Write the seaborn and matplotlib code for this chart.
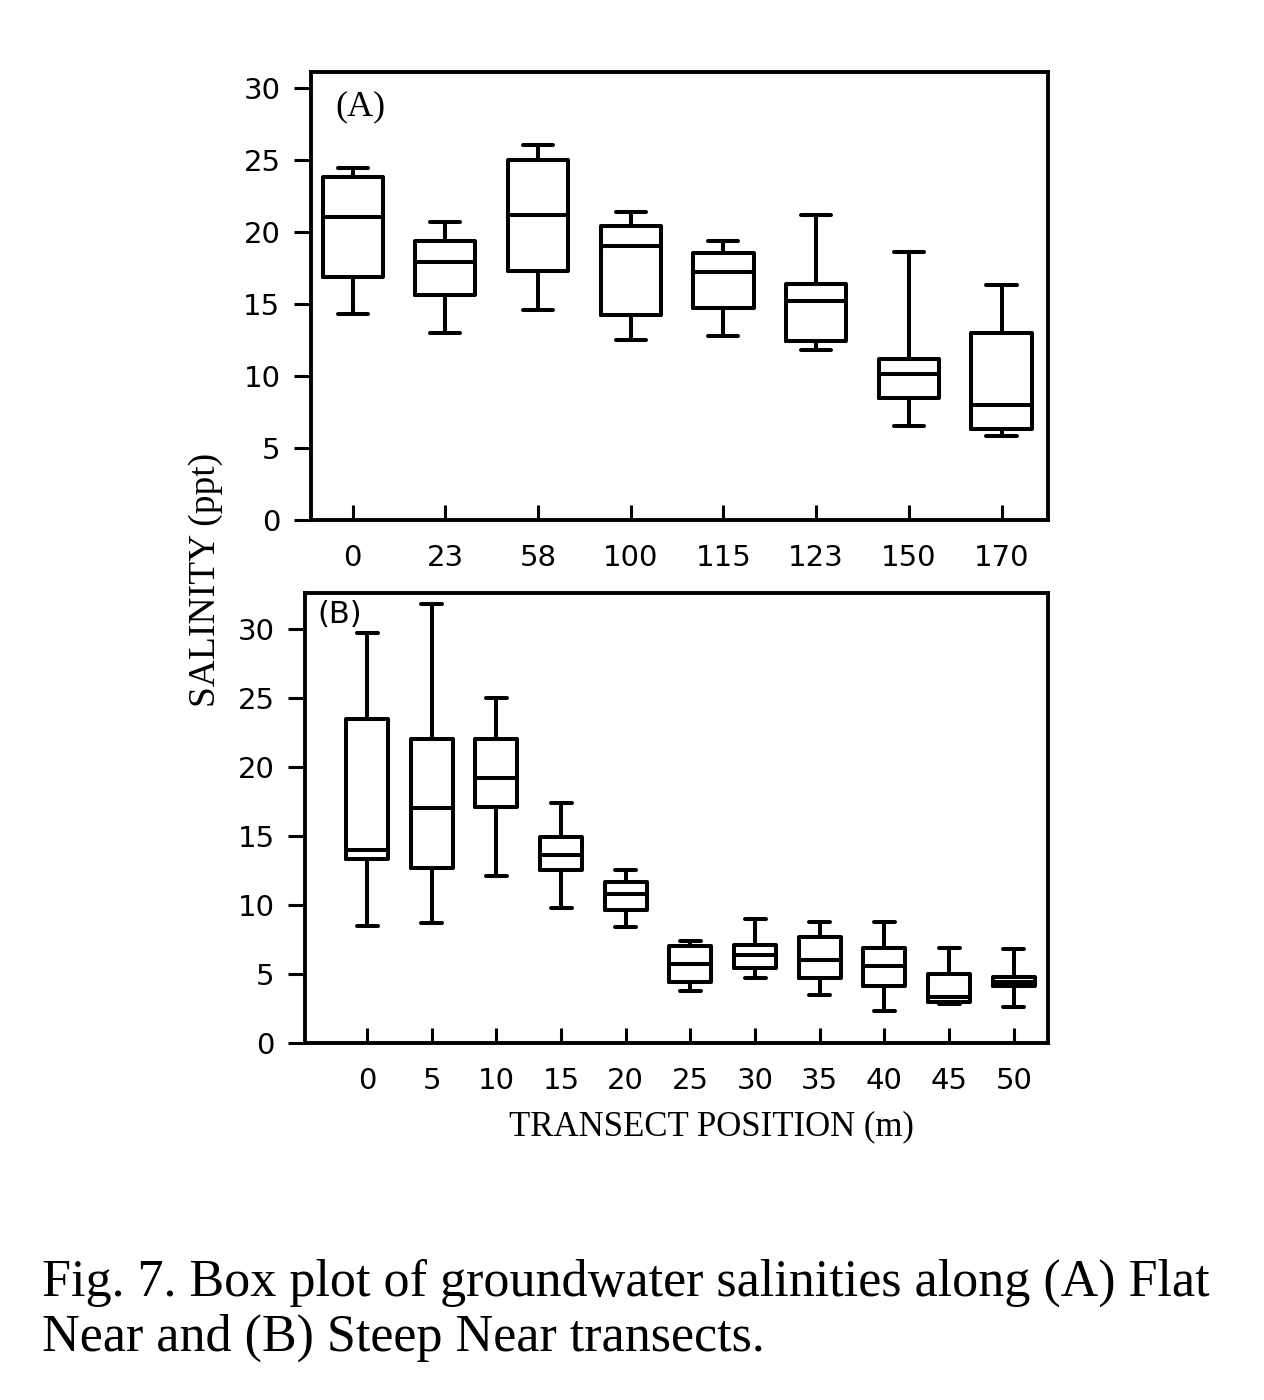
"""
Box plots of groundwater salinity along two beach transects (Fig. 7).
"""

import numpy as np
import pandas as pd
import matplotlib
matplotlib.use("Agg")
import matplotlib.pyplot as plt
import seaborn as sns

# Panel A: Flat Near transect, positions (m)
pos_a = ["0", "23", "58", "100", "115", "123", "150", "170"]
lo_a = [14.3, 13.0, 14.6, 12.5, 12.8, 11.8, 6.5, 5.8]
q1_a = [16.9, 15.6, 17.3, 14.2, 14.7, 12.4, 8.5, 6.3]
med_a = [21.0, 17.9, 21.2, 19.0, 17.2, 15.2, 10.1, 8.0]
q3_a = [23.8, 19.4, 25.0, 20.4, 18.5, 16.4, 11.2, 13.0]
hi_a = [24.4, 20.7, 26.0, 21.4, 19.4, 21.2, 18.6, 16.3]

# Panel B: Steep Near transect, positions (m)
pos_b = ["0", "5", "10", "15", "20", "25", "30", "35", "40", "45", "50"]
lo_b = [8.5, 8.7, 12.1, 9.8, 8.4, 3.8, 4.7, 3.5, 2.3, 2.8, 2.6]
q1_b = [13.3, 12.7, 17.1, 12.5, 9.6, 4.4, 5.45, 4.7, 4.1, 3.0, 4.1]
med_b = [14.0, 17.0, 19.2, 13.6, 10.8, 5.7, 6.4, 6.0, 5.6, 3.35, 4.45]
q3_b = [23.5, 22.0, 22.0, 14.9, 11.7, 7.0, 7.1, 7.7, 6.9, 5.0, 4.8]
hi_b = [29.7, 31.8, 25.0, 17.4, 12.5, 7.4, 9.0, 8.75, 8.75, 6.9, 6.8]


def five_number_frame(positions, lo, q1, med, q3, hi):
    # five values per position -> percentiles 0/25/50/75/100 land exactly on them
    rows = []
    for i, p in enumerate(positions):
        for v in (lo[i], q1[i], med[i], q3[i], hi[i]):
            rows.append({"position": p, "salinity": v})
    return pd.DataFrame(rows)


df_a = five_number_frame(pos_a, lo_a, q1_a, med_a, q3_a, hi_a)
df_b = five_number_frame(pos_b, lo_b, q1_b, med_b, q3_b, hi_b)

sns.set_theme(style="ticks")
plt.rcParams["font.family"] = ["DejaVu Sans"]
plt.rcParams["text.color"] = "black"

fig = plt.figure(figsize=(12.64, 14), dpi=100)
ax_a = fig.add_axes([0.246, 0.6286, 0.583, 0.32])
ax_b = fig.add_axes([0.2413, 0.255, 0.5878, 0.3214])

line_kws = dict(color="black", linewidth=2.9)
for ax, df, order in ((ax_a, df_a, pos_a), (ax_b, df_b, pos_b)):
    sns.boxplot(data=df, x="position", y="salinity", order=order, ax=ax,
                whis=(0, 100), width=0.65, fill=False, color="black",
                linewidth=2.9, showfliers=False,
                boxprops=line_kws, medianprops=line_kws,
                whiskerprops=line_kws, capprops=line_kws)
    ax.set_xlabel("")
    ax.set_ylabel("")
    ax.set_yticks([0, 5, 10, 15, 20, 25, 30])
    for s in ax.spines.values():
        s.set_visible(True)
        s.set_linewidth(2.8)
        s.set_color("black")
    ax.tick_params(axis="y", direction="out", length=12, width=2.2,
                   labelsize=21, pad=10, colors="black")
    ax.tick_params(axis="x", direction="in", length=11, width=2.2,
                   labelsize=21, pad=17, colors="black")

ax_a.set_xlim(-0.45, 7.5)
ax_a.set_ylim(0, 31.1)
ax_b.set_xlim(-0.96, 10.53)
ax_b.set_ylim(0, 32.6)

ax_a.text(0.033, 0.958, "(A)", transform=ax_a.transAxes, ha="left", va="top",
          fontsize=26, family="Liberation Serif", color="black")
ax_b.text(0.016, 0.985, "(B)", transform=ax_b.transAxes, ha="left", va="top",
          fontsize=22, color="black")

fig.text(0.163, 0.586, "SALINITY (ppt)", rotation=90, ha="center", va="center",
         fontsize=27, family="Liberation Serif", color="black")
fig.text(0.5625, 0.195, "TRANSECT POSITION (m)", ha="center", va="center",
         fontsize=25, family="Liberation Serif", color="black")

fig.text(0.033, 0.064, "Fig. 7. Box plot of groundwater salinities along (A) Flat\n"
         "Near and (B) Steep Near transects.", ha="left", va="center",
         fontsize=37.5, family="Liberation Serif", linespacing=1.2, color="black")

fig.savefig("out.png", dpi=100, facecolor="white")
